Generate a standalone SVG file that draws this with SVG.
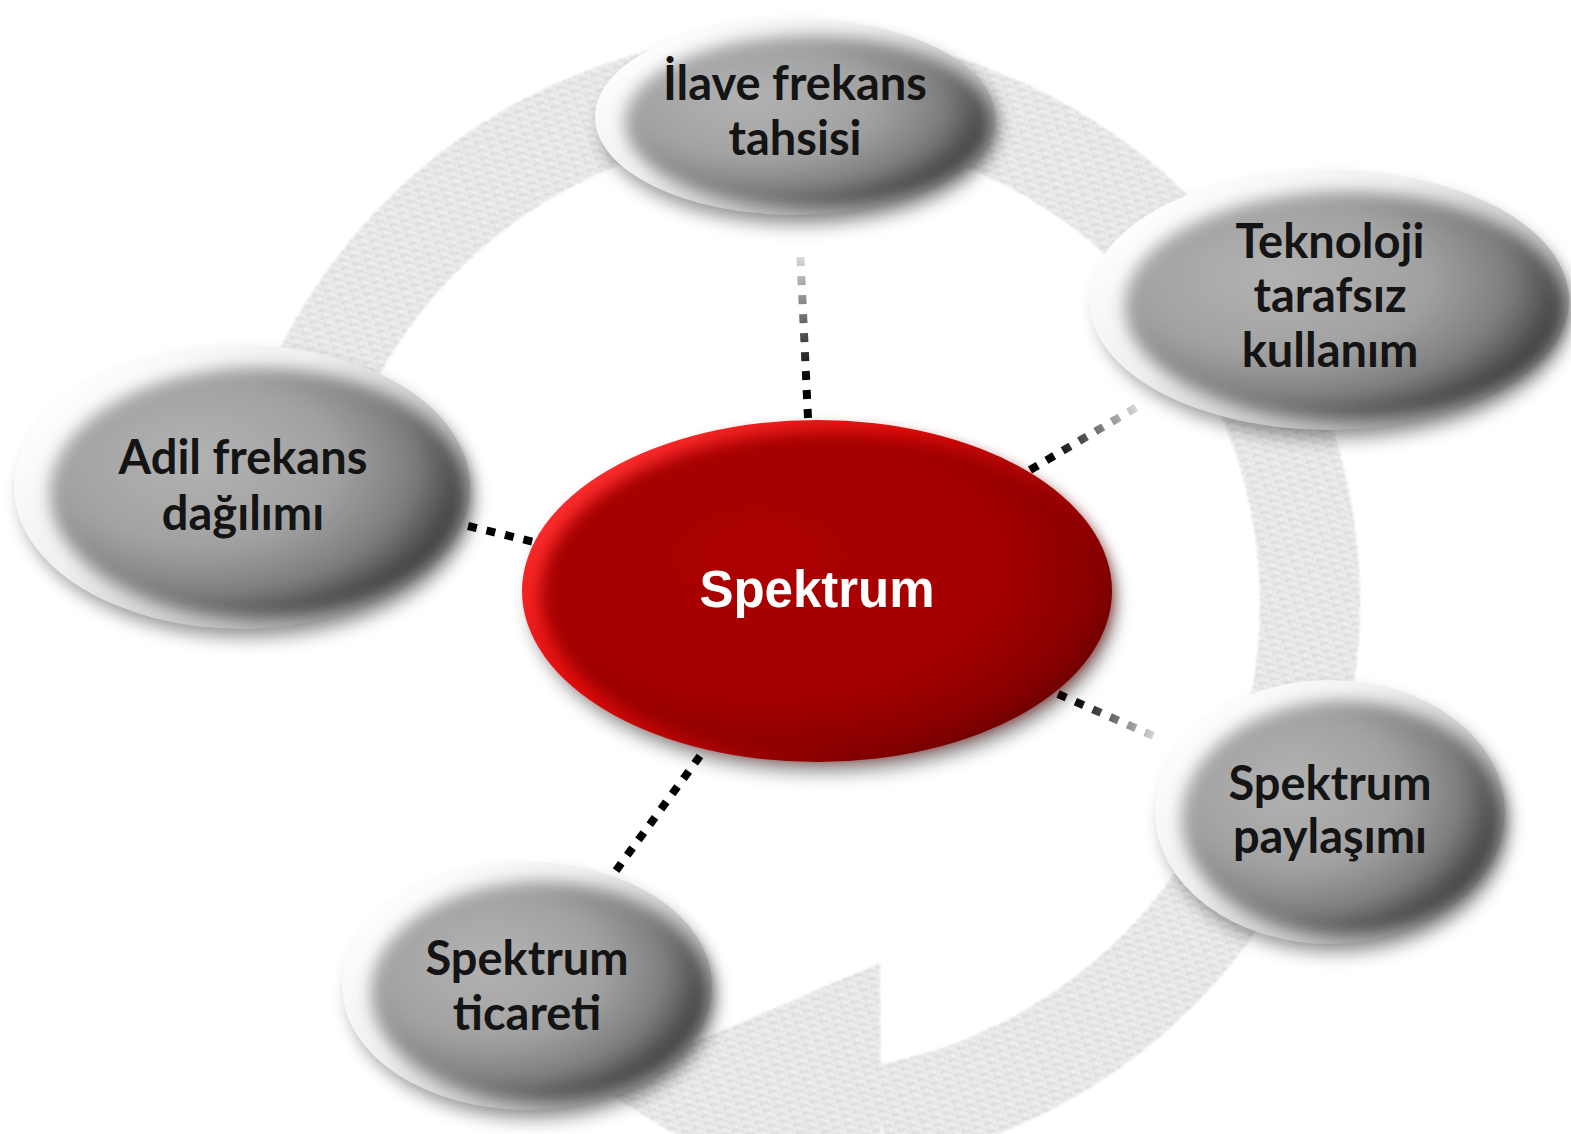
<svg xmlns="http://www.w3.org/2000/svg" width="1571" height="1134" viewBox="0 0 1571 1134">
<style>
.lbl{font-family:Lato,"Open Sans","Liberation Sans",sans-serif;font-weight:700;font-size:47px;fill:#141414;text-anchor:middle}
.ctr{font-family:"Liberation Sans",Arial,sans-serif;font-weight:700;font-size:51px;fill:#ffffff;text-anchor:middle}
.shadow{fill:#000;opacity:.4;filter:url(#blurS)}
.rimG{fill:url(#rimGray)}
.faceG{fill:url(#faceGray);filter:url(#blurF)}
.dots{fill:none;stroke-width:8;stroke-dasharray:9 10}
</style>
<defs>
<pattern id="tex" width="12" height="8" patternUnits="userSpaceOnUse" patternTransform="rotate(-20)">
<rect width="12" height="8" fill="#efefef"/>
<circle cx="1.5" cy="1.5" r="1.1" fill="#b4b4b4"/>
<circle cx="4.5" cy="1.5" r="1.1" fill="#bcbcbc"/>
<circle cx="7.5" cy="2.5" r="1.1" fill="#b4b4b4"/>
<circle cx="10.5" cy="5.5" r="1.1" fill="#c2c2c2"/>
<circle cx="3" cy="6" r="1" fill="#cacaca"/>
</pattern>
<filter id="soft" x="-5%" y="-5%" width="110%" height="110%"><feGaussianBlur stdDeviation="1.1"/></filter>
<filter id="blurS" x="-20%" y="-20%" width="140%" height="140%"><feGaussianBlur stdDeviation="9"/></filter>
<filter id="blurF" x="-20%" y="-20%" width="140%" height="140%"><feGaussianBlur stdDeviation="8"/></filter>
<linearGradient id="rimGray" x1="0.05" y1="0.2" x2="0.95" y2="0.85">
<stop offset="0" stop-color="#ffffff"/>
<stop offset="0.35" stop-color="#f0f0f0"/>
<stop offset="0.7" stop-color="#c4c4c4"/>
<stop offset="1" stop-color="#909090"/>
</linearGradient>
<radialGradient id="faceGray" cx="0.36" cy="0.4" r="0.74" fx="0.34" fy="0.36">
<stop offset="0" stop-color="#b2b2b2"/>
<stop offset="0.45" stop-color="#a2a2a2"/>
<stop offset="0.7" stop-color="#7e7e7e"/>
<stop offset="0.88" stop-color="#3e3e3e"/>
<stop offset="1" stop-color="#4a4a4a"/>
</radialGradient>
<linearGradient id="rimRed" x1="0.05" y1="0.2" x2="0.95" y2="0.85">
<stop offset="0" stop-color="#ff3030"/>
<stop offset="0.35" stop-color="#e00a0a"/>
<stop offset="0.75" stop-color="#8c0000"/>
<stop offset="1" stop-color="#5a0000"/>
</linearGradient>
<radialGradient id="faceRed" cx="0.4" cy="0.42" r="0.7" fx="0.38" fy="0.38">
<stop offset="0" stop-color="#ab0000"/>
<stop offset="0.6" stop-color="#a40000"/>
<stop offset="0.82" stop-color="#8a0000"/>
<stop offset="1" stop-color="#600000"/>
</radialGradient>
<linearGradient id="fTop" gradientUnits="userSpaceOnUse" x1="804" y1="250" x2="806" y2="380">
<stop offset="0" stop-color="#e6e6e6"/><stop offset="1" stop-color="#000"/>
</linearGradient>
<linearGradient id="fTek" gradientUnits="userSpaceOnUse" x1="1030" y1="470" x2="1142" y2="404">
<stop offset="0.2" stop-color="#000"/><stop offset="1" stop-color="#e6e6e6"/>
</linearGradient>
<linearGradient id="fPay" gradientUnits="userSpaceOnUse" x1="1058" y1="694" x2="1158" y2="738">
<stop offset="0.15" stop-color="#000"/><stop offset="1" stop-color="#e0e0e0"/>
</linearGradient>
</defs>
<rect width="1571" height="1134" fill="#ffffff"/>

<g id="ring" filter="url(#soft)">
<path d="M275.1,530.6 A520,520 0 0 1 1050,152.7 A520,520 0 0 1 880,1115.2" fill="none" stroke="url(#tex)" stroke-width="100"/>
<polygon points="880,963 882,1262 595,1085" fill="url(#tex)"/>
</g>

<g id="connectors">
<line class="dots" x1="808" y1="418" x2="800" y2="248" stroke="url(#fTop)"/>
<line class="dots" x1="1030" y1="470" x2="1142" y2="404" stroke="url(#fTek)"/>
<line class="dots" x1="468" y1="526" x2="534" y2="542" stroke="#000"/>
<line class="dots" x1="1058" y1="694" x2="1158" y2="738" stroke="url(#fPay)"/>
<line class="dots" x1="700" y1="756" x2="612" y2="876" stroke="#000"/>
</g>

<g id="node-center">
<ellipse class="shadow" cx="823" cy="603" rx="293" ry="170"/>
<ellipse cx="817" cy="591" rx="295" ry="171" fill="url(#rimRed)"/>
<ellipse cx="825" cy="594" rx="284" ry="162" fill="url(#faceRed)" filter="url(#blurF)"/>
<text class="ctr" x="817" y="607">Spektrum</text>
</g>

<g id="node-ilave">
<ellipse class="shadow" cx="800" cy="128" rx="198" ry="97"/>
<ellipse class="rimG" cx="795" cy="117" rx="200" ry="98"/>
<ellipse class="faceG" cx="808" cy="122" rx="183" ry="86"/>
<text class="lbl" x="795" y="100">İlave frekans</text>
<text class="lbl" x="795" y="155">tahsisi</text>
</g>

<g id="node-teknoloji">
<ellipse class="shadow" cx="1335" cy="311" rx="236" ry="128"/>
<ellipse class="rimG" cx="1329" cy="300" rx="240" ry="130"/>
<ellipse class="faceG" cx="1345" cy="306" rx="220" ry="114"/>
<text class="lbl" x="1330" y="258">Teknoloji</text>
<text class="lbl" x="1330" y="312">tarafsız</text>
<text class="lbl" x="1330" y="367">kullanım</text>
</g>

<g id="node-adil">
<ellipse class="shadow" cx="248" cy="498" rx="226" ry="140"/>
<ellipse class="rimG" cx="242" cy="487" rx="228" ry="142"/>
<ellipse class="faceG" cx="258" cy="493" rx="208" ry="125"/>
<text class="lbl" x="243" y="474">Adil frekans</text>
<text class="lbl" x="243" y="530">dağılımı</text>
</g>

<g id="node-paylasim">
<ellipse class="shadow" cx="1336" cy="823" rx="173" ry="130"/>
<ellipse class="rimG" cx="1330" cy="812" rx="175" ry="132"/>
<ellipse class="faceG" cx="1342" cy="818" rx="160" ry="117"/>
<text class="lbl" x="1330" y="800">Spektrum</text>
<text class="lbl" x="1330" y="853">paylaşımı</text>
</g>

<g id="node-ticaret">
<ellipse class="shadow" cx="533" cy="997" rx="183" ry="122"/>
<ellipse class="rimG" cx="527" cy="986" rx="185" ry="124"/>
<ellipse class="faceG" cx="540" cy="992" rx="169" ry="110"/>
<text class="lbl" x="527" y="975">Spektrum</text>
<text class="lbl" x="527" y="1030">ticareti</text>
</g>
</svg>
